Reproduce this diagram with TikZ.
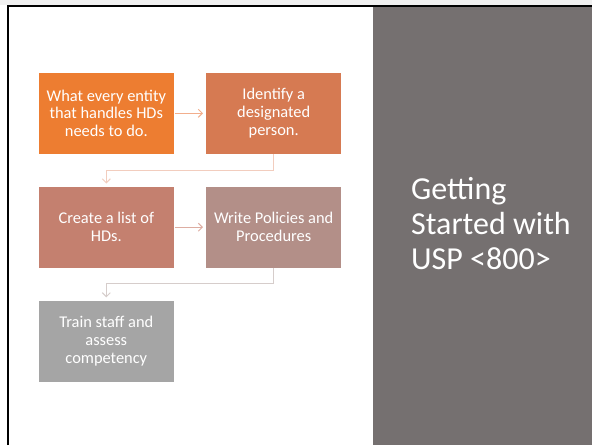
\documentclass[tikz,border=0pt]{standalone}
\usepackage{fontspec}
\setmainfont{Carlito}
\usetikzlibrary{positioning,arrows.meta}

\definecolor{panelgray}{HTML}{757070}
\definecolor{stepA}{HTML}{ED7D31}
\definecolor{stepB}{HTML}{D67A52}
\definecolor{stepC}{HTML}{C4806F}
\definecolor{stepD}{HTML}{B38F88}
\definecolor{stepE}{HTML}{A5A5A5}
\definecolor{linkA}{HTML}{F2AE8C}
\definecolor{linkB}{HTML}{F2CDBE}
\definecolor{linkC}{HTML}{DDADA2}
\definecolor{linkD}{HTML}{D6CDCB}

\begin{document}
\begin{tikzpicture}[x=1pt, y=-1pt,
  stepbox/.style={minimum width=135pt, minimum height=81pt, inner sep=0pt,
    text=white, align=center, font=\fontsize{16.4}{17.8}\selectfont},
  link/.style={line width=1pt, -{Straight Barb[length=4pt,width=8pt]}}]
\useasboundingbox (0,0) rectangle (592,445);
\fill[white] (0,0) rectangle (592,445);
\fill[gray!12] (0,0) rectangle (592,5);
% title panel on the right
\fill[panelgray] (373,7) rectangle (592,445);
\draw[line width=2pt] (8.3,445) -- (8.3,6) -- (592,6);

% steps
\node[stepbox, fill=stepA] (entity) at (106.3,113.3) {What every entity\\that handles HDs\\needs to do.};
\node[stepbox, fill=stepB, right=32pt of entity] (person) {Identify a\\designated\\person.};
\node[stepbox, fill=stepC, below=32.5pt of entity] (hdlist) {Create a list of\\HDs.};
\node[stepbox, fill=stepD, right=32pt of hdlist] (policies) {Write Policies and\\Procedures};
\node[stepbox, fill=stepE, below=32.5pt of hdlist] (training) {Train staff and\\assess\\competency};

\draw[link, linkA, shorten <=1pt, shorten >=3pt] (entity) -- (person);
\draw[link, linkB, shorten >=3pt] (person.south) -- ++(0,16) -| (hdlist.north);
\draw[link, linkC, shorten <=1pt, shorten >=3pt] (hdlist) -- (policies);
\draw[link, linkD, shorten >=3pt] (policies.south) -- ++(0,16) -| (training.north);

\node[font=\fontsize{32}{35}\selectfont, text=white, align=left, anchor=west,
  inner sep=0pt] (title) at (411,224) {Getting\\Started with\\USP <800>};
\end{tikzpicture}
\end{document}
